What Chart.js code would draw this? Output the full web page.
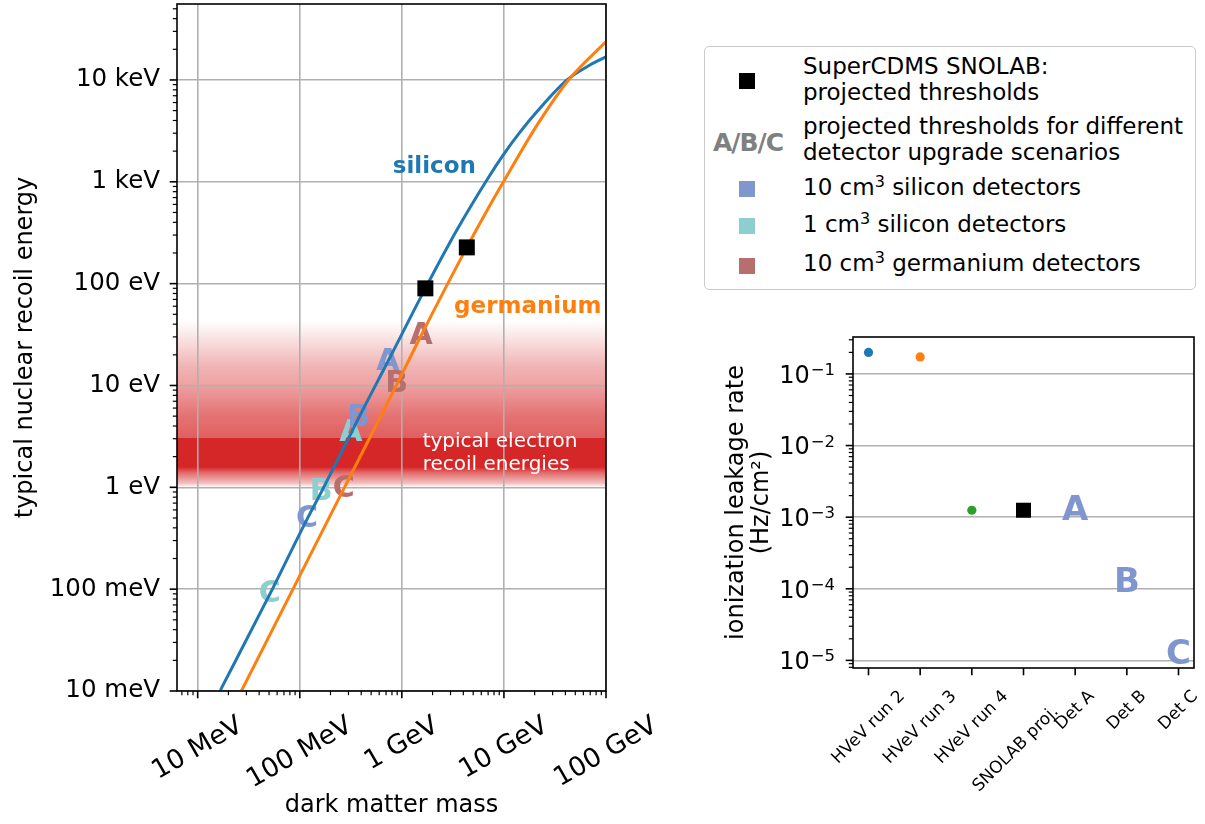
<!DOCTYPE html>
<html>
<head>
<meta charset="utf-8">
<script src="https://cdn.jsdelivr.net/npm/chart.js@4.4.1/dist/chart.umd.min.js"></script>
<style>
  body { margin: 0; background: #fff; width: 1205px; height: 824px; overflow: hidden; position: relative;
         font-family: "DejaVu Sans", sans-serif; }
  canvas { position: absolute; display: block; }
  #recoilChart { left: 0; top: 0; }
  #leakageChart { left: 640px; top: 300px; }
  .legend { position: absolute; left: 704px; top: 46px; width: 492px; height: 244px; box-sizing: border-box;
            border: 1.5px solid #ccc; border-radius: 5px; background: #fff; }
  .mark { position: absolute; left: 739px; width: 16px; height: 16px; }
  .txt { position: absolute; left: 803px; font-size: 23px; line-height: 23px; white-space: nowrap; color: #000; }
  .sup { position: relative; top: -8px; font-size: 16px; }
  .abc { position: absolute; left: 713px; top: 130px; font-size: 25px; line-height: 25px; font-weight: bold;
         color: #808080; letter-spacing: -1px; }
</style>
</head>
<body>
<canvas id="recoilChart" width="700" height="824"></canvas>
<canvas id="leakageChart" width="565" height="524"></canvas>

<div class="legend"></div>
<div class="mark" style="top:73px;background:#000"></div>
<div class="txt" style="top:55px">SuperCDMS SNOLAB:</div>
<div class="txt" style="top:80.5px">projected thresholds</div>
<div class="abc">A/B/C</div>
<div class="txt" style="top:114.5px">projected thresholds for different</div>
<div class="txt" style="top:140.5px">detector upgrade scenarios</div>
<div class="mark" style="top:181px;background:#7f96cf"></div>
<div class="txt" style="top:175.5px">10 cm<span class="sup">3</span> silicon detectors</div>
<div class="mark" style="top:218px;background:#8dcecf"></div>
<div class="txt" style="top:213px">1 cm<span class="sup">3</span> silicon detectors</div>
<div class="mark" style="top:258px;background:#b76f6e"></div>
<div class="txt" style="top:252px">10 cm<span class="sup">3</span> germanium detectors</div>

<script>
// left panel: masses in GeV, energies in eV
const massTicks = [0.01, 0.1, 1, 10, 100];
const massTickLabels = ['10 MeV', '100 MeV', '1 GeV', '10 GeV', '100 GeV'];
const energyTicks = [0.01, 0.1, 1, 10, 100, 1000, 10000];
const energyTickLabels = ['10 meV', '100 meV', '1 eV', '10 eV', '100 eV', '1 keV', '10 keV'];

const siliconMass = [0.0167, 0.0509, 0.118, 0.162, 0.317, 0.378, 0.728, 1.70, 3.46, 6.81, 9.9, 14.5, 21.1, 41.5, 65.2, 100];
const siliconEnergy = [0.0102, 0.0893, 0.487, 0.891, 3.38, 4.82, 17.1, 89.9, 336, 1042, 1850, 3105, 4890, 10000, 13500, 16900];
const germaniumMass = [0.0268, 0.269, 0.891, 1.54, 4.33, 6.81, 9.9, 21.1, 43, 100];
const germaniumEnergy = [0.01, 0.96, 10.2, 30.8, 227, 520, 1000, 3600, 10000, 23800];

const snolabMass = [1.70, 4.33];
const snolabEnergy = [89.9, 227];

const scenarioLetters = ['A', 'B', 'C'];
const si10Mass = [0.728, 0.378, 0.118];
const si10Energy = [17.1, 4.82, 0.487];
const si1Mass = [0.317, 0.162, 0.0509];
const si1Energy = [3.38, 0.891, 0.0893];
const ge10Mass = [1.54, 0.891, 0.269];
const ge10Energy = [30.8, 10.2, 0.96];

// right panel
const leakageCategories = ['HVeV run 2', 'HVeV run 3', 'HVeV run 4', 'SNOLAB proj.    ', 'Det A', 'Det B', 'Det C'];
const leakageRates = [0.2, 0.173, 0.00125, 0.00125, 0.0012, 0.00012, 0.000012];
const leakageTicks = [1e-5, 1e-4, 1e-3, 1e-2, 1e-1];
const leakageTickExponents = ['\u22125', '\u22124', '\u22123', '\u22122', '\u22121'];

const FONT = '"DejaVu Sans", sans-serif';
const GRID = '#b0b0b0';
const SI10_COLOR = '#7f96cf';
const SI1_COLOR = '#8dcecf';
const GE10_COLOR = '#b76f6e';

Chart.defaults.font.family = FONT;
Chart.defaults.font.size = 24;
Chart.defaults.color = '#000';

function logTicks(min, max) {
   const out = [];
   for (let e = Math.floor(Math.log10(min)); e <= Math.ceil(Math.log10(max)); e++) {
      for (let k = 1; k < 10; k++) {
         const v = k * Math.pow(10, e);
         if (v >= min * 0.999999 && v <= max * 1.000001) out.push({ value: v, major: k === 1 });
      }
   }
   return out;
}

function tickLabel(values, labels) {
   return v => {
      const i = values.findIndex(t => Math.abs(Math.log10(t) - Math.log10(v)) < 1e-6);
      return i < 0 ? '' : labels[i];
   };
}

const pts = (xs, ys) => xs.map((x, i) => ({ x: x, y: ys[i] }));

// red gradient band, drawn under the grid
const electronBand = {
   id: 'electronBand',
   beforeDraw(chart, args, opts) {
      if (!opts.stops) return;
      const { ctx, chartArea: a } = chart;
      const y = chart.scales.y;
      const y0 = y.getPixelForValue(opts.stops[0][0]);
      const y1 = y.getPixelForValue(opts.stops[opts.stops.length - 1][0]);
      const g = ctx.createLinearGradient(0, y0, 0, y1);
      opts.stops.forEach(([e, al]) => {
         g.addColorStop(Math.min(1, Math.max(0, (y.getPixelForValue(e) - y0) / (y1 - y0))), 'rgba(214,39,40,' + al + ')');
      });
      ctx.save();
      ctx.fillStyle = g;
      ctx.fillRect(a.left, y0, a.right - a.left, y1 - y0);
      ctx.restore();
   }
};

// letters standing in for points, under the curves
const letterMarks = {
   id: 'letterMarks',
   beforeDatasetsDraw(chart, args, opts) {
      const ctx = chart.ctx;
      ctx.save();
      ctx.font = 'bold ' + (opts.size || 30) + 'px ' + FONT;
      ctx.textAlign = 'center';
      ctx.textBaseline = 'middle';
      chart.data.datasets.forEach((ds, i) => {
         if (!ds.letters) return;
         ctx.fillStyle = ds.letterColor;
         chart.getDatasetMeta(i).data.forEach((p, j) => ctx.fillText(ds.letters[j], p.x, p.y));
      });
      ctx.restore();
   }
};

// free text placed at data coordinates
const textNotes = {
   id: 'textNotes',
   afterDatasetsDraw(chart, args, opts) {
      if (!opts.notes) return;
      const ctx = chart.ctx;
      ctx.save();
      ctx.textAlign = 'left';
      ctx.textBaseline = 'alphabetic';
      opts.notes.forEach(n => {
         ctx.font = n.font;
         ctx.fillStyle = n.color;
         ctx.fillText(n.text, chart.scales.x.getPixelForValue(n.x), chart.scales.y.getPixelForValue(n.y));
      });
      ctx.restore();
   }
};

// matplotlib-like frame, tick marks, centred rotated x labels, 10^n y labels
const axesFrame = {
   id: 'axesFrame',
   afterDraw(chart, args, opts) {
      const { ctx, chartArea: a } = chart;
      ctx.save();
      ctx.strokeStyle = '#000';
      Object.values(chart.scales).forEach(s => {
         s.ticks.forEach(t => {
            const len = t.major ? 7.3 : 4.2;
            ctx.lineWidth = t.major ? 1.6 : 1.2;
            const p = s.getPixelForValue(t.value);
            ctx.beginPath();
            if (s.axis === 'x') { ctx.moveTo(p, a.bottom); ctx.lineTo(p, a.bottom + len); }
            else { ctx.moveTo(a.left, p); ctx.lineTo(a.left - len, p); }
            ctx.stroke();
         });
      });
      ctx.lineWidth = 1.6;
      ctx.strokeRect(a.left, a.top, a.right - a.left, a.bottom - a.top);
      ctx.fillStyle = '#000';

      if (opts.labels) {
         const s = chart.scales.x;
         const th = opts.rotation * Math.PI / 180;
         ctx.font = opts.size + 'px ' + FONT;
         ctx.textAlign = 'center';
         ctx.textBaseline = 'middle';
         opts.values.forEach((v, i) => {
            const text = opts.labels[i];
            const w = ctx.measureText(text).width;
            const h = opts.size * 0.95;
            const H = w * Math.sin(th) + h * Math.cos(th);
            ctx.save();
            ctx.translate(s.getPixelForValue(v), a.bottom + opts.gap + H / 2);
            ctx.rotate(-th);
            ctx.fillText(text, 0, 0);
            ctx.restore();
         });
      }

      if (opts.powers) {
         const s = chart.scales.y;
         ctx.textAlign = 'left';
         ctx.textBaseline = 'alphabetic';
         opts.powers.values.forEach((v, i) => {
            const exp = opts.powers.exps[i];
            const p = s.getPixelForValue(v);
            ctx.font = '24px ' + FONT;
            const wb = ctx.measureText('10').width;
            ctx.font = '16.5px ' + FONT;
            const ws = ctx.measureText(exp).width;
            const x0 = a.left - 18 - wb - ws - 1;
            ctx.font = '24px ' + FONT;
            ctx.fillText('10', x0, p + 8.8);
            ctx.font = '16.5px ' + FONT;
            ctx.fillText(exp, x0 + wb + 1, p + 1);
         });
      }
      ctx.restore();
   }
};

const majorGrid = c => (c.tick && c.tick.major) ? GRID : 'rgba(0,0,0,0)';

new Chart(document.getElementById('recoilChart'), {
   type: 'scatter',
   data: {
      datasets: [
         {
            data: pts(snolabMass, snolabEnergy),
            pointStyle: 'rect', pointRadius: 11.3, pointBackgroundColor: '#000',
            pointBorderColor: '#000', pointBorderWidth: 0
         },
         {
            data: pts(germaniumMass, germaniumEnergy), showLine: true,
            borderColor: '#ff7f0e', borderWidth: 3, pointRadius: 0, cubicInterpolationMode: 'monotone'
         },
         {
            data: pts(siliconMass, siliconEnergy), showLine: true,
            borderColor: '#1f77b4', borderWidth: 3, pointRadius: 0, cubicInterpolationMode: 'monotone'
         },
         { data: pts(si1Mass, si1Energy), letters: scenarioLetters, letterColor: SI1_COLOR, pointRadius: 0 },
         { data: pts(ge10Mass, ge10Energy), letters: scenarioLetters, letterColor: GE10_COLOR, pointRadius: 0 },
         { data: pts(si10Mass, si10Energy), letters: scenarioLetters, letterColor: SI10_COLOR, pointRadius: 0 }
      ]
   },
   options: {
      responsive: false,
      animation: false,
      devicePixelRatio: 1,
      events: [],
      layout: { autoPadding: false, padding: { left: 0, top: 4, right: 94, bottom: 0 } },
      scales: {
         x: {
            type: 'logarithmic', min: 0.00627, max: 100,
            afterBuildTicks: s => { s.ticks = logTicks(s.min, s.max); },
            afterFit: s => { s.height = 133; s.paddingLeft = 0; s.paddingRight = 0; },
            grid: { color: majorGrid, lineWidth: 1.6, drawTicks: false },
            border: { display: false },
            ticks: { display: false, autoSkip: false },
            title: { display: true, text: 'dark matter mass', font: { size: 24 }, padding: { top: 0, bottom: 3.6 } }
         },
         y: {
            type: 'logarithmic', min: 0.01, max: 55700,
            afterBuildTicks: s => { s.ticks = logTicks(s.min, s.max); },
            afterFit: s => { s.width = 177; s.paddingTop = 0; s.paddingBottom = 0; },
            grid: { color: majorGrid, lineWidth: 1.6, drawTicks: false },
            border: { display: false },
            ticks: { autoSkip: false, padding: 17, font: { size: 24.5 }, callback: tickLabel(energyTicks, energyTickLabels) },
            title: { display: true, text: 'typical nuclear recoil energy', font: { size: 24 }, padding: { top: 11.6, bottom: 0 } }
         }
      },
      plugins: {
         legend: { display: false },
         tooltip: { enabled: false },
         electronBand: {
            stops: [[43.7, 0], [32.7, 0.09], [15.2, 0.35], [10.6, 0.42], [4.9, 0.66], [3.4, 0.72], [3.06, 0.74],
                    [3.04, 1], [1.58, 1], [1.38, 0.67], [1.1, 0.3], [1.0, 0]]
         },
         letterMarks: { size: 30 },
         textNotes: {
            notes: [
               { text: 'silicon', x: 0.815, y: 1228, font: 'bold 23px ' + FONT, color: '#1f77b4' },
               { text: 'germanium', x: 3.25, y: 51.1, font: 'bold 23px ' + FONT, color: '#ff7f0e' },
               { text: 'typical electron', x: 1.60, y: 2.48, font: '20px ' + FONT, color: '#fff' },
               { text: 'recoil energies', x: 1.60, y: 1.47, font: '20px ' + FONT, color: '#fff' }
            ]
         },
         axesFrame: { labels: massTickLabels, values: massTicks, rotation: 30, size: 26.5, gap: 22 }
      }
   },
   plugins: [electronBand, letterMarks, textNotes, axesFrame]
});

const leakageIdx = leakageCategories.map((_, i) => i);

new Chart(document.getElementById('leakageChart'), {
   type: 'scatter',
   data: {
      datasets: [
         {
            data: pts(leakageIdx.slice(3, 4), leakageRates.slice(3, 4)),
            pointStyle: 'rect', pointRadius: 10.6, pointBackgroundColor: '#000',
            pointBorderColor: '#000', pointBorderWidth: 0
         },
         {
            data: pts(leakageIdx.slice(0, 3), leakageRates.slice(0, 3)),
            pointRadius: 4.6, pointBorderWidth: 0,
            pointBackgroundColor: ['#1f77b4', '#ff7f0e', '#2ca02c']
         },
         {
            data: pts(leakageIdx.slice(4), leakageRates.slice(4)),
            letters: scenarioLetters, letterColor: SI10_COLOR, pointRadius: 0
         }
      ]
   },
   options: {
      responsive: false,
      animation: false,
      devicePixelRatio: 1,
      events: [],
      layout: { autoPadding: false, padding: { left: 0, top: 37, right: 11, bottom: 0 } },
      scales: {
         x: {
            type: 'linear', min: -0.3, max: 6.3,
            afterBuildTicks: s => { s.ticks = leakageIdx.map(i => ({ value: i, major: true })); },
            afterFit: s => { s.height = 156; s.paddingLeft = 0; s.paddingRight = 0; },
            grid: { display: false },
            border: { display: false },
            ticks: { display: false }
         },
         y: {
            type: 'logarithmic', min: 7.83e-6, max: 0.328,
            afterBuildTicks: s => { s.ticks = logTicks(s.min, s.max); },
            afterFit: s => { s.width = 213; s.paddingTop = 0; s.paddingBottom = 0; },
            grid: { color: majorGrid, lineWidth: 1.6, drawTicks: false },
            border: { display: false },
            ticks: { display: false, autoSkip: false },
            title: {
               display: true, text: ['ionization leakage rate', '(Hz/cm\u00B2)'],
               font: { size: 24, lineHeight: 1.04 }, padding: { top: 84.5, bottom: 0 }
            }
         }
      },
      plugins: {
         legend: { display: false },
         tooltip: { enabled: false },
         letterMarks: { size: 34 },
         axesFrame: {
            labels: leakageCategories, values: leakageIdx, rotation: 45, size: 17, gap: 20,
            powers: { values: leakageTicks, exps: leakageTickExponents }
         }
      }
   },
   plugins: [letterMarks, axesFrame]
});
</script>
</body>
</html>
